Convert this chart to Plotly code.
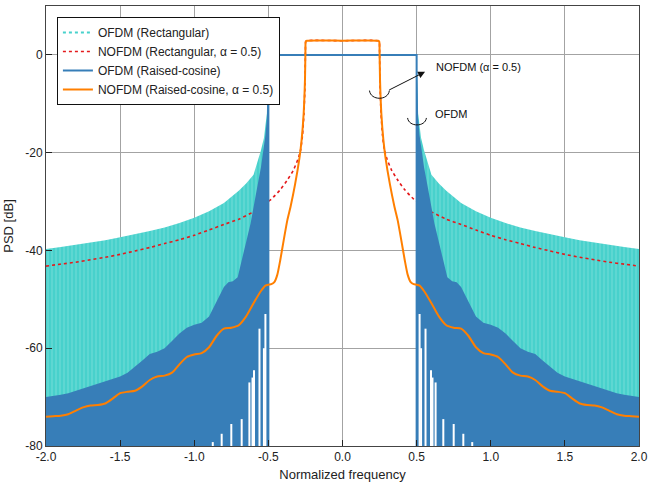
import plotly.graph_objects as go

# ---- data (positive-frequency half; spectra are symmetric about 0) ----
# OFDM, rectangular pulse: upper envelope of the out-of-band sidelobes [dB]
rect_ofdm_f = [0.5, 0.503, 0.51, 0.53, 0.55, 0.6, 0.65, 0.7, 0.8, 0.9, 1.0,
               1.1, 1.2, 1.3, 1.4, 1.5, 1.6, 1.7, 1.8, 1.9, 2.0]
rect_ofdm_psd = [0, -6, -12, -17, -19.5, -24.5, -26.3, -27.8, -30.3, -32, -33.3,
                 -34.4, -35.3, -36, -36.7, -37.3, -37.9, -38.4, -38.9, -39.3, -39.7]

# NOFDM, rectangular pulse, alpha = 0.5
rect_nofdm_f = [0.0, 0.24, 0.248, 0.25, 0.253, 0.26, 0.27, 0.283, 0.3, 0.33, 0.37,
                0.42, 0.48, 0.55, 0.6, 0.7, 0.8, 0.9, 1.0, 1.1, 1.2, 1.3, 1.4,
                1.5, 1.6, 1.7, 1.8, 1.9, 2.0]
rect_nofdm_psd = [2.9, 2.9, 2.7, 1, -6, -12, -16.5, -19.5, -21.3, -23.5, -25.5,
                  -27.6, -29.5, -31.1, -32.1, -33.6, -34.7, -35.8, -36.9, -37.8,
                  -38.6, -39.4, -40.1, -40.8, -41.4, -41.9, -42.4, -42.8, -43.2]

# OFDM, raised-cosine pulse: in-band level and out-of-band envelope
rc_ofdm_band_f = [-0.5, -0.5, 0.5, 0.5]
rc_ofdm_band_psd = [-80, 0, 0, -80]
rc_ofdm_f = [0.5, 0.505, 0.51, 0.52, 0.55, 0.584, 0.62, 0.674, 0.707, 0.74, 0.77,
             0.8, 0.85, 0.9, 0.95, 1.0, 1.05, 1.1, 1.15, 1.2, 1.25, 1.3, 1.35,
             1.4, 1.45, 1.5, 1.55, 1.6, 1.65, 1.7, 1.75, 1.8, 1.85, 1.9, 1.95, 2.0]
rc_ofdm_psd = [0, -8, -13, -16.5, -23, -28.5, -34.5, -41.3, -45.5, -46.3, -46.5,
               -47.5, -50.5, -53.5, -54.8, -55.2, -55.8, -57, -58.5, -60, -60.7,
               -61.2, -62.5, -63.8, -65, -65.8, -66.3, -66.8, -67.3, -67.8, -68.3,
               -68.8, -69.2, -69.5, -69.8, -70]
# spectral nulls of the raised-cosine OFDM sidelobes (centre, top level)
rc_null_f = [0.52, 0.53, 0.56, 0.597, 0.607, 0.628, 0.68, 0.75, 0.815, 0.875]
rc_null_psd = [-53, -60, -56, -64.5, -66, -67, -74.5, -75.5, -77.5, -79.2]

# NOFDM, raised-cosine pulse, alpha = 0.5
rc_nofdm_f = [0.0, 0.24, 0.248, 0.25, 0.253, 0.262, 0.276, 0.29, 0.32, 0.35, 0.372,
              0.4, 0.42, 0.44, 0.46, 0.48, 0.5, 0.52, 0.55, 0.6, 0.65, 0.7, 0.75,
              0.8, 0.85, 0.9, 0.95, 1.0, 1.05, 1.1, 1.15, 1.2, 1.25, 1.3, 1.35,
              1.4, 1.45, 1.5, 1.55, 1.6, 1.65, 1.7, 1.75, 1.8, 1.85, 1.9, 1.95, 2.0]
rc_nofdm_psd = [2.9, 2.9, 2.7, 1, -5, -12, -17.5, -21, -26.5, -31, -33.8,
                -38.5, -42, -45, -46.5, -46.9, -47, -47.2, -48.3, -50.8, -53.5,
                -55.3, -55.8, -56, -57.5, -59.8, -61, -61.3, -61.8, -63.3, -65,
                -65.6, -65.8, -66.5, -67.8, -68.7, -68.9, -69.2, -70.3, -71.3,
                -71.6, -71.7, -72.1, -72.8, -73.5, -73.8, -73.9, -74]

x_ticks = [-2.0, -1.5, -1.0, -0.5, 0.0, 0.5, 1.0, 1.5, 2.0]
x_tick_text = ["-2.0", "-1.5", "-1.0", "-0.5", "0.0", "0.5", "1.0", "1.5", "2.0"]
y_ticks = [0, -20, -40, -60, -80]
y_tick_text = ["0", "-20", "-40", "-60", "-80"]

FLOOR = -80
CYAN = "#48d1cc"
RED = "#e41a1c"
BLUE = "#377eb8"
ORANGE = "#ff7f00"
FONT = "Liberation Sans, Arial, sans-serif"


def mirror(f, p):
    """Full two-sided curve from the positive-frequency half."""
    fl = [-v for v in reversed(f)]
    pl = list(reversed(p))
    if f[0] == 0:
        fl, pl = fl[:-1], pl[:-1]
    return fl + list(f), pl + list(p)


def band_polygon(f, p, side):
    """Closed region between a sidelobe envelope and the plot floor."""
    xs = [side * v for v in f]
    return xs + [xs[-1], xs[0]], list(p) + [FLOOR, FLOOR]


fig = go.Figure()

# OFDM rectangular: dense sidelobes rendered as a streaked band
for side in (1, -1):
    px, py = band_polygon(rect_ofdm_f, rect_ofdm_psd, side)
    fig.add_trace(go.Scatter(x=px, y=py, mode="lines", fill="toself",
                             fillcolor=CYAN,
                             fillpattern=dict(shape="|", fgcolor="white",
                                              bgcolor=CYAN, fgopacity=0.3,
                                              size=4, solidity=0.2),
                             line=dict(width=0, color=CYAN),
                             showlegend=False, hoverinfo="skip"))
fig.add_trace(go.Scatter(x=[None], y=[None], mode="lines",
                         name="OFDM (Rectangular)",
                         line=dict(color=CYAN, width=2, dash="dot")))

# NOFDM rectangular
fx, fy = mirror(rect_nofdm_f, rect_nofdm_psd)
fig.add_trace(go.Scatter(x=fx, y=fy, mode="lines",
                         name="NOFDM (Rectangular, α = 0.5)",
                         line=dict(color=RED, width=1.6, dash="dot",
                                   shape="spline", smoothing=0.6)))

# OFDM raised-cosine: sidelobe band
for side in (1, -1):
    px, py = band_polygon(rc_ofdm_f, rc_ofdm_psd, side)
    fig.add_trace(go.Scatter(x=px, y=py, mode="lines", fill="toself",
                             fillcolor=BLUE, line=dict(width=0, color=BLUE),
                             showlegend=False, hoverinfo="skip"))
fig.add_trace(go.Scatter(x=rc_ofdm_band_f, y=rc_ofdm_band_psd, mode="lines",
                         name="OFDM (Raised-cosine)",
                         line=dict(color=BLUE, width=2)))

# nulls in the raised-cosine sidelobes
nx, ny = [], []
for side in (1, -1):
    for f, top in zip(rc_null_f, rc_null_psd):
        nx += [side * f, side * f, None]
        ny += [FLOOR, top, None]
fig.add_trace(go.Scatter(x=nx, y=ny, mode="lines", showlegend=False,
                         line=dict(color="white", width=2), hoverinfo="skip"))

# NOFDM raised-cosine
fx, fy = mirror(rc_nofdm_f, rc_nofdm_psd)
fig.add_trace(go.Scatter(x=fx, y=fy, mode="lines",
                         name="NOFDM (Raised-cosine, α = 0.5)",
                         line=dict(color=ORANGE, width=2,
                                   shape="spline", smoothing=0.6)))

# callouts
fig.add_annotation(x=0.62, y=-2.44, xref="x", yref="y", text="NOFDM (α = 0.5)",
                   showarrow=False, xanchor="left", yanchor="middle",
                   font=dict(family=FONT, size=11, color="#111"))
fig.add_annotation(x=0.557, y=-3.46, ax=0.305, ay=-7.33, axref="x", ayref="y",
                   xref="x", yref="y", text="", showarrow=True, arrowhead=2,
                   arrowsize=1.4, arrowwidth=1, arrowcolor="#111")
fig.add_annotation(x=0.613, y=-12.0, xref="x", yref="y", text="OFDM",
                   showarrow=False, xanchor="left", yanchor="middle",
                   font=dict(family=FONT, size=11, color="#111"))


def arc(x0, x1, y_end, y_ctrl):
    return (f"M {x0},{y_end} C {x0 + 0.008},{y_ctrl} {x1 - 0.008},{y_ctrl} "
            f"{x1},{y_end}")


fig.add_shape(type="path", xref="x", yref="y",
              path=arc(0.182, 0.316, -7.3, -9.4),
              line=dict(color="#111", width=1))
fig.add_shape(type="path", xref="x", yref="y",
              path=arc(0.439, 0.566, -12.9, -14.8),
              line=dict(color="#111", width=1))

axis_common = dict(
    showgrid=True, gridcolor="#a3a3a3", gridwidth=1.3, zeroline=False,
    showline=True, linecolor="#444", linewidth=1, mirror=True,
    ticks="inside", ticklen=6, tickcolor="#222", tickwidth=1,
    tickfont=dict(family=FONT, size=12, color="#222"),
)

fig.update_layout(
    width=653, height=485,
    margin=dict(l=46, r=10, t=5, b=38),
    paper_bgcolor="white", plot_bgcolor="white",
    font=dict(family=FONT, size=12, color="#222"),
    showlegend=True,
    legend=dict(x=0.0184, y=0.975, xanchor="left", yanchor="top",
                bgcolor="white", bordercolor="#111", borderwidth=1,
                font=dict(family=FONT, size=12, color="#222"),
                itemwidth=30, tracegroupgap=0),
    xaxis=dict(range=[-2, 2], tickvals=x_ticks, ticktext=x_tick_text,
               title=dict(text="Normalized frequency", standoff=6,
                          font=dict(family=FONT, size=13, color="#222")),
               **axis_common),
    yaxis=dict(range=[-80, 10], tickvals=y_ticks, ticktext=y_tick_text,
               title=dict(text="PSD [dB]", standoff=8,
                          font=dict(family=FONT, size=13, color="#222")),
               **axis_common),
)

fig.write_html("out.html")
